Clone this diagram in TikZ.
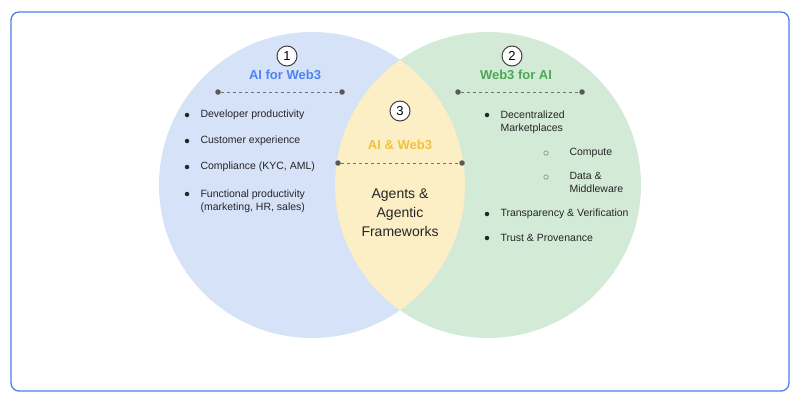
\documentclass[tikz,border=0pt]{standalone}
\usepackage{fontspec}
\setmainfont{Liberation Sans}
\begin{document}
\begin{tikzpicture}[x=1pt,y=-1pt,
 item/.style={font=\fontsize{10.5}{13}\selectfont,anchor=west,align=left,text=black!85},
 bul/.style={circle,fill=black!85,inner sep=0,minimum size=4.5pt},
 sub/.style={circle,draw=black!60,inner sep=0,minimum size=4.5pt},
 num/.style={circle,draw=black!75,fill=white,line width=1pt,minimum size=20pt,inner sep=0,font=\fontsize{13}{13}\selectfont},
 ttl/.style={font=\bfseries\fontsize{13}{15}\selectfont},
 dot/.style={circle,fill=black!65,inner sep=0,minimum size=5.5pt},
 dline/.style={draw=black!55,dashed,line width=0.8pt}]
\definecolor{lb}{HTML}{D5E2F8}\definecolor{lg}{HTML}{D3EAD7}\definecolor{ly}{HTML}{FCEFC5}
\definecolor{tb}{HTML}{4F84F0}\definecolor{tg}{HTML}{4CA855}\definecolor{ty}{HTML}{F4C03E}
\definecolor{bd}{HTML}{4A80E8}
\useasboundingbox (0,0) rectangle (800,400);
\fill[white] (0,0) rectangle (800,400);
\draw[rounded corners=8pt,draw=bd,line width=1.3pt] (11,12) rectangle (789,391);
\fill[lb] (312,185) circle (153);
\fill[lg] (488,185) circle (153);
\begin{scope}\clip (312,185) circle (153); \fill[ly] (488,185) circle (153);\end{scope}
\node[num] (n1) at (287,56) {1};
\node[ttl,text=tb] (t1) at (285,75) {AI for Web3};
\node[dot] (a1) at (218,92) {}; \node[dot] (a2) at (342,92) {};
\draw[dline] (a1)--(a2);
\node[bul] (b1) at (187,115) {}; \node[item] at (197,115) {Developer productivity};
\node[bul] (b2) at (187,141) {}; \node[item] at (197,141) {Customer experience};
\node[bul] (b3) at (187,167) {}; \node[item] at (197,167) {Compliance (KYC, AML)};
\node[bul] (b4) at (187,194) {}; \node[item,anchor=north west] at (197,186) {Functional productivity\\(marketing, HR, sales)};
\node[num] (n2) at (512,56) {2};
\node[ttl,text=tg] (t2) at (516,75) {Web3 for AI};
\node[dot] (c1) at (458,92) {}; \node[dot] (c2) at (582,92) {};
\draw[dline] (c1)--(c2);
\node[bul] (d1) at (487,115) {}; \node[item,anchor=north west] at (497,107) {Decentralized\\Marketplaces};
\node[sub] (s1) at (546,153) {}; \node[item] at (566,153) {Compute};
\node[sub] (s2) at (546,177) {}; \node[item,anchor=north west] at (566,169) {Data \&\\Middleware};
\node[bul] (d2) at (487,214) {}; \node[item] at (497,214) {Transparency \& Verification};
\node[bul] (d3) at (487,238) {}; \node[item] at (497,238) {Trust \& Provenance};
\node[num] (n3) at (400,111) {3};
\node[ttl,text=ty] (t3) at (400,145) {AI \& Web3};
\node[dot] (e1) at (338,163) {}; \node[dot] (e2) at (462,163) {};
\draw[dline] (e1)--(e2);
\node[font=\fontsize{14}{19}\selectfont,align=center,text=black!85] (ag) at (400,213) {Agents \&\\Agentic\\Frameworks};
\end{tikzpicture}
\end{document}
